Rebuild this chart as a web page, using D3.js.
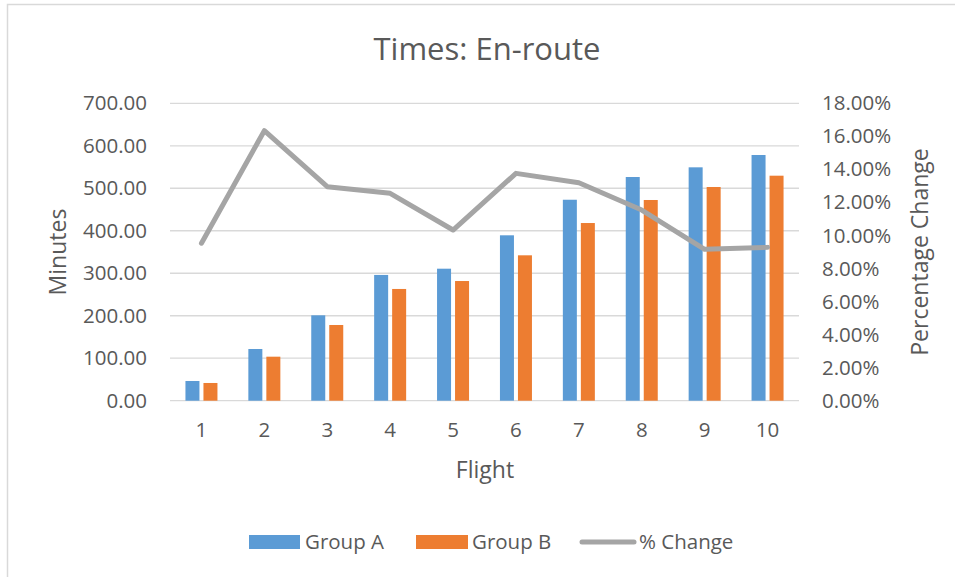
<!DOCTYPE html>
<html>
<head>
<meta charset="utf-8">
<script src="https://cdn.jsdelivr.net/npm/d3@7"></script>
<style>
  html, body { margin: 0; padding: 0; background: #fff; }
  svg { display: block; }
  text { font-family: "Open Sans", "Noto Sans", sans-serif; fill: #595959; }
</style>
</head>
<body>
<svg id="chart" width="955" height="577"></svg>
<script>
// Flight-by-flight en-route times for the two groups, plus percentage change
const flights = ["1", "2", "3", "4", "5", "6", "7", "8", "9", "10"];
const groupA = [46.4, 121.7, 201, 296, 310.7, 389.3, 473, 526.5, 549.3, 578.3];
const groupB = [41.7, 103.6, 178.2, 263, 281.7, 342.2, 418.2, 472.4, 503, 529.6];
const pctChange = [9.53, 16.34, 12.95, 12.55, 10.33, 13.76, 13.19, 11.54, 9.16, 9.28];
const minuteTicks = [0, 100, 200, 300, 400, 500, 600, 700];
const pctTicks = [0, 2, 4, 6, 8, 10, 12, 14, 16, 18];

const colA = "#5b9bd5", colB = "#ed7d31", colLine = "#a5a5a5";
const grid = "#d9d9d9";
const tickFont = 20.5;

const svg = d3.select("#chart");

// outer chart frame
svg.append("rect")
  .attr("x", 7.5).attr("y", 4.5).attr("width", 1000).attr("height", 600)
  .attr("fill", "#fff").attr("stroke", grid).attr("stroke-width", 1.5);

const plot = { left: 170, right: 799, top: 103.3, bottom: 400.7 };

const x = d3.scaleBand().domain(flights).range([plot.left, plot.right]);
const yL = d3.scaleLinear().domain([0, 700]).range([plot.bottom, plot.top]);
const yR = d3.scaleLinear().domain([0, 18]).range([plot.bottom, plot.top]);

// title
svg.append("text")
  .attr("x", 487).attr("y", 60)
  .attr("text-anchor", "middle")
  .attr("font-size", 31)
  .text("Times: En-route");

// horizontal gridlines
svg.append("g").selectAll("line").data(minuteTicks).join("line")
  .attr("x1", plot.left).attr("x2", plot.right)
  .attr("y1", d => yL(d)).attr("y2", d => yL(d))
  .attr("stroke", grid).attr("stroke-width", 1.3);

function styleTicks(g) {
  g.select(".domain").remove();
  g.selectAll("text").attr("font-size", tickFont).attr("fill", "#595959")
    .style("font-family", "'Open Sans', sans-serif");
}

// left axis
svg.append("g")
  .attr("transform", `translate(${plot.left},0)`)
  .call(d3.axisLeft(yL).tickValues(minuteTicks).tickFormat(d3.format(".2f")).tickSize(0).tickPadding(23))
  .call(styleTicks);

// right axis
svg.append("g")
  .attr("transform", `translate(${plot.right},0)`)
  .call(d3.axisRight(yR).tickValues(pctTicks).tickFormat(d => d3.format(".2f")(d) + "%").tickSize(0).tickPadding(23))
  .call(styleTicks);

// bottom axis
svg.append("g")
  .attr("transform", `translate(0,${plot.bottom})`)
  .call(d3.axisBottom(x).tickSize(0).tickPadding(22))
  .call(styleTicks);

// axis titles
svg.append("text")
  .attr("transform", "translate(66,252) rotate(-90)")
  .attr("text-anchor", "middle").attr("font-size", 23)
  .text("Minutes");
svg.append("text")
  .attr("transform", "translate(928,252) rotate(-90)")
  .attr("text-anchor", "middle").attr("font-size", 23)
  .text("Percentage Change");
svg.append("text")
  .attr("x", 485).attr("y", 478)
  .attr("text-anchor", "middle").attr("font-size", 23)
  .text("Flight");

// clustered bars
const barW = 14, gap = 4;
const bars = svg.append("g");
bars.selectAll("rect.a").data(groupA).join("rect")
  .attr("class", "a")
  .attr("x", (d, i) => x(flights[i]) + x.bandwidth() / 2 - gap / 2 - barW)
  .attr("width", barW)
  .attr("y", d => yL(d))
  .attr("height", d => yL(0) - yL(d))
  .attr("fill", colA);
bars.selectAll("rect.b").data(groupB).join("rect")
  .attr("class", "b")
  .attr("x", (d, i) => x(flights[i]) + x.bandwidth() / 2 + gap / 2)
  .attr("width", barW)
  .attr("y", d => yL(d))
  .attr("height", d => yL(0) - yL(d))
  .attr("fill", colB);

// percentage change line on the secondary axis
const line = d3.line()
  .x((d, i) => x(flights[i]) + x.bandwidth() / 2)
  .y(d => yR(d));
svg.append("path")
  .datum(pctChange)
  .attr("d", line)
  .attr("fill", "none")
  .attr("stroke", colLine)
  .attr("stroke-width", 5)
  .attr("stroke-linejoin", "round")
  .attr("stroke-linecap", "round");

// legend
const legend = svg.append("g").attr("font-size", tickFont);
legend.append("rect").attr("x", 249).attr("y", 535).attr("width", 51).attr("height", 14).attr("fill", colA);
legend.append("text").attr("x", 305).attr("y", 549).text("Group A");
legend.append("rect").attr("x", 416).attr("y", 535).attr("width", 52).attr("height", 14).attr("fill", colB);
legend.append("text").attr("x", 472).attr("y", 549).text("Group B");
legend.append("line").attr("x1", 582).attr("x2", 634).attr("y1", 542).attr("y2", 542)
  .attr("stroke", colLine).attr("stroke-width", 5).attr("stroke-linecap", "round");
legend.append("text").attr("x", 639).attr("y", 549).text("% Change");
</script>
</body>
</html>
